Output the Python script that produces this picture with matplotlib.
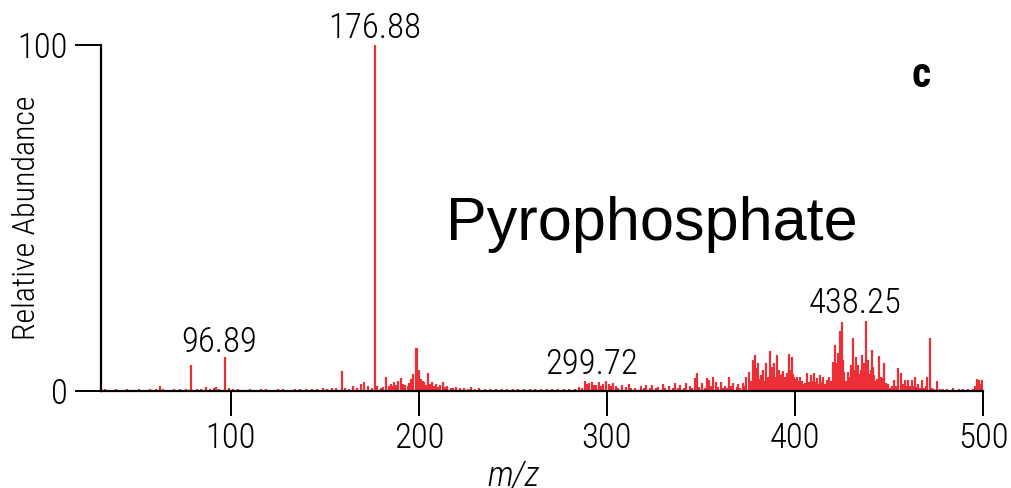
import matplotlib
matplotlib.use("Agg")
import matplotlib.pyplot as plt

# peak list, split by m/z region (m/z, relative abundance)
mz_low = [
    33, 36, 39, 42, 45, 48, 51, 54, 57, 60,
    62.2, 64, 67, 70, 73, 76, 79.1, 82, 84, 86.7,
    89, 91, 92.4, 94, 96.89, 99, 101, 104, 107, 110,
    113, 116, 119, 122, 125, 128, 131, 134, 137, 140,
    143, 146, 149, 151, 154, 156, 158.9, 161, 163, 165,
    167, 169, 171, 173, 175, 176.88,
]
ab_low = [
    0.5, 0.4, 0.6, 0.4, 0.5, 0.4, 0.5, 0.4, 0.6, 0.5,
    1.3, 0.5, 0.4, 0.5, 0.6, 0.5, 7.5, 0.5, 0.6, 1.1,
    0.5, 0.8, 1.2, 0.6, 9.8, 0.8, 0.5, 0.5, 0.4, 0.5,
    0.4, 0.5, 0.6, 0.4, 0.5, 0.6, 0.4, 0.5, 0.6, 0.5,
    0.6, 0.5, 0.8, 0.6, 1.0, 0.8, 5.8, 1.0, 0.7, 1.4,
    0.9, 2.0, 2.5, 1.5, 0.8, 100.0,
]

mz_200 = [
    178, 180, 181, 182.8, 184, 185, 186, 187, 188, 189,
    190.5, 191.5, 192.5, 194, 195, 196, 197, 198.3, 199.2, 200.2,
    201.2, 202.2, 203, 204, 205, 206, 207, 208, 209, 210,
    211, 212.8, 214, 215, 217, 218, 220, 222, 224, 226,
    228, 230, 232, 235, 238, 241, 244, 247, 250, 253,
    256, 259, 262, 265, 268, 271, 274, 277, 280, 283,
]
ab_200 = [
    1.5, 1.0, 1.2, 4.1, 1.5, 2.0, 1.4, 2.5, 1.8, 3.0,
    3.8, 2.0, 1.6, 1.5, 2.4, 3.5, 5.0, 12.3, 12.3, 6.0,
    3.5, 3.0, 2.5, 1.8, 5.3, 2.0, 2.5, 1.4, 2.0, 1.2,
    1.8, 2.7, 1.2, 1.5, 1.0, 0.8, 1.2, 0.8, 1.0, 0.7,
    1.2, 0.6, 0.8, 0.6, 0.7, 0.5, 0.6, 0.5, 0.6, 0.5,
    0.6, 0.5, 0.6, 0.5, 0.6, 0.5, 0.6, 0.5, 0.7, 0.6,
]

mz_300 = [
    285, 287, 288.3, 289.5, 290.5, 292, 293, 294, 296, 297,
    298, 299.72, 301, 302, 303, 305, 306, 308, 310, 312,
    313, 315, 318, 320, 321, 323, 324, 326, 327, 330,
    331, 333, 335, 336, 338, 339, 341, 342, 344, 345,
]
ab_300 = [
    1.2, 0.8, 2.9, 2.0, 2.2, 2.5, 1.6, 1.8, 2.6, 1.5,
    2.0, 3.0, 2.0, 1.4, 2.4, 1.5, 1.0, 1.8, 1.2, 2.0,
    1.0, 1.0, 1.4, 0.8, 1.6, 1.0, 1.8, 0.9, 1.2, 2.0,
    0.8, 1.5, 0.9, 2.2, 1.0, 1.8, 0.9, 2.4, 1.5, 1.0,
]

mz_400 = [
    346.8, 348, 349, 350.4, 352, 353, 354.3, 355.5, 356.5, 358,
    359, 360.5, 362, 362.8, 364, 365, 366, 367, 369, 369.9,
    371, 372.5, 373, 374, 375.7, 376.5, 377.5, 378.2, 378.9, 379.5,
    380.1, 381, 381.7, 382.4, 383.1, 383.8, 384.6, 385.5, 386, 386.7,
    387.3, 387.8, 388.3, 388.8, 389.5, 390.3, 391, 391.6, 392.3, 393,
    393.8, 394.6, 395.6, 396.6, 397.4, 398.2, 399, 399.5, 400.2, 400.9,
    401.8, 402.7, 403.5, 404.5, 405.3, 406, 406.6, 407.5, 408.4, 409.3,
    410.1, 410.8, 411.5, 412.4, 413.3, 414.2, 415.1, 416, 416.8, 417.5,
    418.2, 419, 420, 420.7,
]
ab_400 = [
    3.7, 5.3, 1.2, 2.3, 1.0, 3.8, 3.2, 1.5, 4.1, 2.7,
    1.2, 2.7, 1.0, 1.5, 1.0, 4.1, 1.5, 2.4, 1.2, 1.9,
    1.0, 2.2, 1.5, 4.1, 5.6, 3.0, 9.0, 7.5, 10.4, 6.5,
    8.0, 3.5, 4.6, 2.5, 6.1, 3.0, 8.2, 4.0, 3.5, 11.6,
    5.0, 7.0, 4.5, 8.0, 4.0, 10.4, 5.0, 6.1, 4.5, 5.0,
    5.8, 4.0, 5.3, 10.7, 6.0, 9.7, 5.0, 4.1, 3.5, 4.1,
    3.0, 4.1, 3.0, 2.0, 2.2, 1.2, 5.3, 2.5, 4.6, 3.0,
    5.3, 2.5, 3.8, 2.0, 4.6, 2.5, 4.1, 2.0, 3.2, 1.5,
    4.1, 3.0, 8.5, 5.0,
]

mz_high = [
    421.4, 422.1, 422.7, 423.3, 424, 424.8, 425.5, 426, 427, 428.4,
    429, 429.6, 430.2, 430.7, 431.3, 431.8, 432.4, 433, 433.7, 434.3,
    435, 435.5, 436.1, 436.7, 437.2, 437.8, 438.4, 439, 439.7, 440.2,
    440.8, 441.6, 442.3, 443, 443.8, 444.8, 445.6, 446.6, 447.5, 448.4,
    449.6, 450.5, 451.4, 452.7, 453.8, 455, 456.2, 457.3, 458.5, 459.4,
    460.3, 461.2, 462.1, 463, 463.8, 464.7, 465.6, 466.5, 467.4, 468.5,
    469.5, 470.4, 471.8, 473, 474, 475.7, 477, 478.9, 481, 484.3,
    487, 489.4, 492, 494.5, 496, 496.7, 497.4, 498.1, 498.7, 499.3,
]
ab_high = [
    13.3, 8.0, 10.9, 6.0, 17.3, 20.0, 9.0, 5.6, 3.0, 5.6,
    4.0, 7.5, 5.0, 15.2, 6.0, 5.0, 9.9, 6.0, 7.5, 5.0,
    6.0, 10.4, 6.5, 8.0, 5.0, 20.3, 7.0, 8.9, 5.0, 6.0,
    11.8, 6.8, 4.5, 3.0, 3.5, 10.0, 4.0, 3.7, 8.0, 2.4,
    1.9, 1.0, 1.4, 3.2, 1.5, 6.5, 5.1, 2.0, 3.2, 1.5,
    3.2, 1.5, 3.2, 1.5, 4.0, 1.2, 2.1, 1.0, 3.2, 1.0,
    1.5, 4.0, 15.2, 1.0, 0.6, 2.9, 0.5, 0.6, 0.5, 0.9,
    0.6, 0.5, 0.6, 0.5, 1.5, 3.4, 2.5, 3.2, 2.0, 3.1,
]

mz = mz_low + mz_200 + mz_300 + mz_400 + mz_high
abundance = ab_low + ab_200 + ab_300 + ab_400 + ab_high

# labelled peaks: text and where its label sits
peak_labels = ["176.88", "96.89", "299.72", "438.25"]
label_x = [176.3, 94.1, 291.9, 431.9]
label_y = [102.0, 11.4, 4.8, 22.6]

narrow = ["Roboto Condensed", "Archivo Narrow", "Liberation Sans Narrow", "DejaVu Sans"]
red = "#ec2f37"

fig = plt.figure(figsize=(10.11, 4.88), dpi=100)
ax = fig.add_axes([0.0999, 0.1988, 0.8724, 0.709])

ax.vlines(mz, 0, abundance, color=red, linewidth=1.6)
ax.set_xlim(31, 500)
ax.set_ylim(0, 100)

for side in ["top", "right"]:
    ax.spines[side].set_visible(False)
ax.spines["left"].set_linewidth(1.6)
ax.spines["bottom"].set_linewidth(1.6)
ax.spines["left"].set_bounds(0, 100)

ax.set_yticks([0, 100])
ax.set_xticks([100, 200, 300, 400, 500])
ax.tick_params(axis="y", direction="out", length=19, width=1.4, pad=5)
ax.tick_params(axis="x", direction="out", length=18, width=1.4, pad=4)
for lab in ax.get_xticklabels() + ax.get_yticklabels():
    lab.set_family(narrow)
    lab.set_fontsize(25)
    lab.set_fontweight("light")

ax.set_ylabel("Relative Abundance", family=narrow, fontsize=23, fontweight="light")
ax.yaxis.set_label_coords(-0.068, 0.5)
ax.set_xlabel("m/z", family=narrow, fontsize=25, style="italic", fontweight="light")
ax.xaxis.set_label_coords(0.468, -0.2)
ax.xaxis.label.set_va("top")

for t, x, y in zip(peak_labels, label_x, label_y):
    ax.text(x, y, t, family=narrow, fontsize=25, fontweight="light",
            ha="center", va="baseline", clip_on=False)

fig.text(0.645, 0.508, "Pyrophosphate", family=["Liberation Sans", "DejaVu Sans"],
         fontsize=44, ha="center", va="baseline")
fig.text(0.911, 0.822, "c", family=narrow, fontsize=30, fontweight="bold",
         ha="center", va="baseline")

fig.savefig("out.png", dpi=100)
